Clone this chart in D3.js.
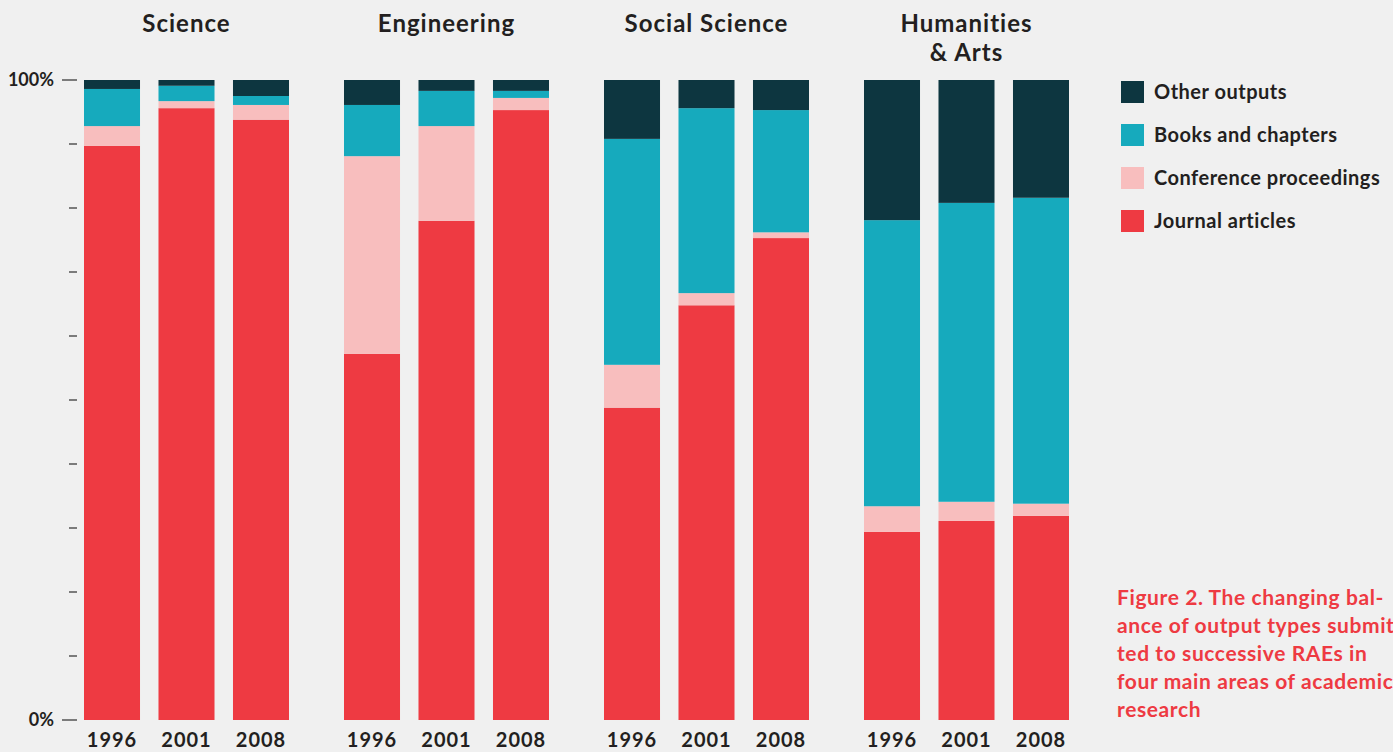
<!DOCTYPE html>
<html lang="en">
<head>
<meta charset="utf-8">
<title>Output types submitted to successive RAEs</title>
<script src="https://d3js.org/d3.v7.min.js"></script>
<style>
  html, body { margin: 0; padding: 0; background: #f0f0f0; overflow: hidden; }
  svg { display: block; font-family: Lato, "Open Sans", sans-serif; font-weight: bold; }
  .axis text { fill: #231f20; font-size: 18px; font-weight: bold; }
  .axis line { stroke: #555; stroke-width: 1.5; }
</style>
</head>
<body>
<script>
// areas, years and series (bottom to top)
var groups = ["Science", "Engineering", "Social Science", "Humanities & Arts"];
var groupTitles = [["Science"], ["Engineering"], ["Social Science"], ["Humanities", "& Arts"]];
var years = ["1996", "2001", "2008"];
var seriesNames = ["Journal articles", "Conference proceedings", "Books and chapters", "Other outputs"];
var seriesColors = ["#ee3a42", "#f8bebe", "#16aabd", "#0d3640"];

// percent of outputs, one value per group/year in order
var journal    = [89.7, 95.6, 93.8, 57.2, 78.0, 95.3, 48.8, 64.8, 75.3, 29.4, 31.1, 31.9];
var conference = [3.1, 1.1, 2.3, 30.9, 14.8, 1.9, 6.7, 1.9, 0.9, 4.0, 3.0, 1.9];
var books      = [5.8, 2.4, 1.4, 8.0, 5.5, 1.1, 35.3, 28.9, 19.1, 44.7, 46.7, 47.8];
var other      = [1.4, 0.9, 2.5, 3.9, 1.7, 1.7, 9.2, 4.4, 4.7, 21.9, 19.2, 18.4];

var caption = ["Figure 2. The changing bal-", "ance of output types submit-",
               "ted to successive RAEs in", "four main areas of academic", "research"];

var width = 1393, height = 752;

var rows = [];
groups.forEach(function(g, gi) {
  years.forEach(function(y, yi) {
    var i = gi * 3 + yi;
    rows.push({ group: g, year: y,
      "Journal articles": journal[i], "Conference proceedings": conference[i],
      "Books and chapters": books[i], "Other outputs": other[i] });
  });
});

var svg = d3.select("body").append("svg")
    .attr("width", width)
    .attr("height", height);

var x0 = d3.scaleBand().domain(groups).range([56, 1096]);
var x1 = d3.scaleBand().domain(years).range([28, 233]).paddingInner(0.248);
var y = d3.scaleLinear().domain([0, 100]).range([720, 80]);
var color = d3.scaleOrdinal().domain(seriesNames).range(seriesColors);

// y axis: labelled 0% and 100%, minor ticks every 10
var axis = svg.append("g").attr("class", "axis");
axis.selectAll("line")
    .data(d3.range(0, 101, 10))
    .enter().append("line")
    .attr("x1", function(d) { return (d % 100 === 0) ? 62 : 69; })
    .attr("x2", 77)
    .attr("y1", function(d) { return y(d); })
    .attr("y2", function(d) { return y(d); });
axis.selectAll("text")
    .data([0, 100])
    .enter().append("text")
    .attr("x", 54)
    .attr("y", function(d) { return y(d); })
    .attr("dy", "0.35em")
    .attr("text-anchor", "end")
    .text(function(d) { return d + "%"; });

var stack = d3.stack().keys(seriesNames);
var layers = stack(rows);

svg.append("g")
  .selectAll("g")
  .data(layers)
  .enter().append("g")
    .attr("fill", function(d) { return color(d.key); })
  .selectAll("rect")
  .data(function(d) { return d; })
  .enter().append("rect")
    .attr("x", function(d) { return x0(d.data.group) + x1(d.data.year); })
    .attr("width", x1.bandwidth())
    .attr("y", function(d) { return y(d[1]); })
    .attr("height", function(d) { return y(d[0]) - y(d[1]); });

// year labels
svg.append("g")
  .selectAll("text")
  .data(rows)
  .enter().append("text")
    .attr("x", function(d) { return x0(d.group) + x1(d.year) + x1.bandwidth() / 2; })
    .attr("y", 747)
    .attr("text-anchor", "middle")
    .attr("font-size", 20)
    .attr("letter-spacing", 1)
    .attr("fill", "#231f20")
    .text(function(d) { return d.year; });

// group titles
var titles = svg.append("g")
  .selectAll("text")
  .data(groups)
  .enter().append("text")
    .attr("x", function(d) { return x0(d) + x1("2001") + x1.bandwidth() / 2; })
    .attr("y", 32)
    .attr("text-anchor", "middle")
    .attr("font-size", 24)
    .attr("letter-spacing", 1)
    .attr("fill", "#231f20");
titles.selectAll("tspan")
  .data(function(d, i) { return groupTitles[i]; })
  .enter().append("tspan")
    .attr("x", function() { return d3.select(this.parentNode).attr("x"); })
    .attr("dy", function(d, i) { return i ? 29 : 0; })
    .text(function(d) { return d; });

// legend, top entry is "Other outputs"
var legend = svg.append("g")
  .selectAll("g")
  .data(seriesNames.slice().reverse())
  .enter().append("g")
    .attr("transform", function(d, i) { return "translate(1121," + (81 + i * 43) + ")"; });
legend.append("rect")
    .attr("width", 23)
    .attr("height", 22)
    .attr("fill", function(d) { return color(d); });
legend.append("text")
    .attr("x", 33)
    .attr("y", 11)
    .attr("dy", "0.35em")
    .attr("font-size", 20)
    .attr("letter-spacing", 0.5)
    .attr("fill", "#231f20")
    .text(function(d) { return d; });

// caption, runs off the right edge as in the page it came from
svg.append("text")
    .attr("x", 1117)
    .attr("y", 605)
    .attr("font-size", 21)
    .attr("letter-spacing", 0.6)
    .attr("fill", "#ee3a42")
  .selectAll("tspan")
  .data(caption)
  .enter().append("tspan")
    .attr("x", 1117)
    .attr("dy", function(d, i) { return i ? 28 : 0; })
    .text(function(d) { return d; });
</script>
</body>
</html>
